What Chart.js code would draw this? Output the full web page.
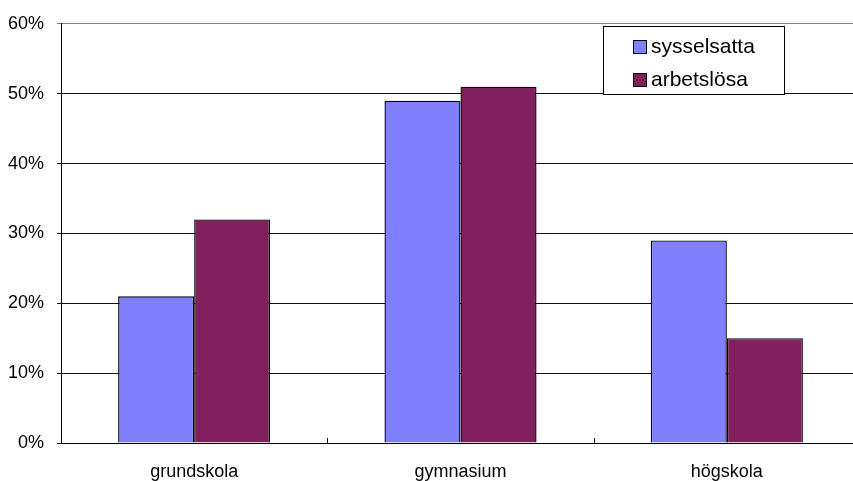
<!DOCTYPE html>
<html>
<head>
<meta charset="utf-8">
<script src="https://cdn.jsdelivr.net/npm/chart.js@4/dist/chart.umd.min.js"></script>
<style>
  html, body { margin: 0; padding: 0; background: #fff; overflow: hidden; }
  #wrap { position: absolute; left: 0; top: 0; width: 860px; height: 481px; }
</style>
</head>
<body>
<div id="wrap"><canvas id="c" width="860" height="481"></canvas></div>
<script>
// Utbildningsnivå bland sysselsatta och arbetslösa (andel, %)
const categories = ['grundskola', 'gymnasium', 'högskola'];
const sysselsatta = [21, 49, 29];
const arbetslosa = [32, 51, 15];
const seriesNames = ['sysselsatta', 'arbetslösa'];
const yTicks = [0, 10, 20, 30, 40, 50, 60];

const FONT = '"Liberation Sans", Arial, sans-serif';

// Short tick marks between categories, pointing up from the x axis
const categoryTicks = {
  id: 'categoryTicks',
  afterDraw(chart) {
    const x = chart.scales.x, ctx = chart.ctx;
    const y0 = chart.chartArea.bottom;
    ctx.save();
    ctx.strokeStyle = '#000';
    ctx.lineWidth = 1;
    for (let i = 1; i < categories.length; i++) {
      const px = Math.round((x.getPixelForTick(i - 1) + x.getPixelForTick(i)) / 2) + 0.5;
      ctx.beginPath();
      ctx.moveTo(px, y0);
      ctx.lineTo(px, y0 - 5);
      ctx.stroke();
    }
    ctx.restore();
  }
};

// Boxed legend inside the plot area, top right
const boxLegend = {
  id: 'boxLegend',
  afterDraw(chart) {
    const ctx = chart.ctx;
    const bx = 603.5, by = 26.5, bw = 181, bh = 68;
    ctx.save();
    ctx.fillStyle = '#fff';
    ctx.fillRect(bx, by, bw, bh);
    ctx.strokeStyle = '#000';
    ctx.lineWidth = 1;
    ctx.strokeRect(bx, by, bw, bh);
    ctx.font = '21px ' + FONT;
    ctx.textBaseline = 'middle';
    chart.data.datasets.forEach((ds, i) => {
      const cy = 47 + i * 33;
      ctx.fillStyle = ds.backgroundColor;
      ctx.fillRect(633.5, cy - 6.5, 13, 13);
      ctx.strokeStyle = '#000';
      ctx.strokeRect(633.5, cy - 6.5, 13, 13);
      ctx.fillStyle = '#000';
      ctx.fillText(ds.label, 651, cy);
    });
    ctx.restore();
  }
};

new Chart(document.getElementById('c'), {
  type: 'bar',
  data: {
    labels: categories,
    datasets: [
      { label: seriesNames[0], data: sysselsatta, backgroundColor: '#8080FF', borderColor: '#000', borderWidth: 1.4 },
      { label: seriesNames[1], data: arbetslosa, backgroundColor: '#80205E', borderColor: '#000', borderWidth: 1.4 }
    ]
  },
  options: {
    responsive: false,
    animation: false,
    layout: { padding: { top: 22, left: 0, right: 0, bottom: 0 } },
    datasets: { bar: { categoryPercentage: 0.571, barPercentage: 1.0 } },
    plugins: { legend: { display: false }, tooltip: { enabled: false } },
    scales: {
      x: {
        grid: { display: false, drawTicks: false },
        border: { display: true, color: '#000', width: 1 },
        ticks: { color: '#000', font: { family: FONT, size: 18 }, padding: 18 },
        afterFit(scale) { scale.height = 38; }
      },
      y: {
        min: 0,
        max: 60,
        afterBuildTicks(scale) { scale.ticks = yTicks.map(v => ({ value: v })); },
        grid: {
          color: ctx => (ctx.tick && ctx.tick.value === 60) ? '#808080' : '#111',
          lineWidth: 1,
          drawTicks: true,
          tickLength: 4
        },
        border: { display: true, color: '#000', width: 1 },
        ticks: {
          color: '#000',
          font: { family: FONT, size: 18 },
          padding: 13,
          callback: v => v + '%'
        },
        afterFit(scale) { scale.width = 61; }
      }
    }
  },
  plugins: [categoryTicks, boxLegend]
});
</script>
</body>
</html>
